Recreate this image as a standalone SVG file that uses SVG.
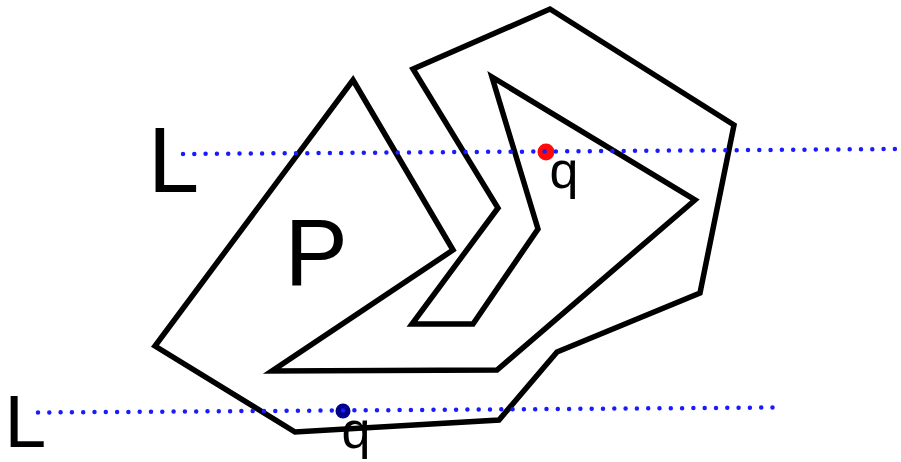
<svg xmlns="http://www.w3.org/2000/svg" width="901" height="462" viewBox="0 0 901 462">
  <style>
    .poly { fill: none; stroke: #000; stroke-width: 5.5; stroke-linejoin: miter; stroke-miterlimit: 10; }
    .scan { fill: none; stroke: #1a1aff; stroke-width: 4.5; stroke-linecap: round; stroke-dasharray: 0 11.3; }
    .lbl { font-family: "Liberation Sans", Arial, sans-serif; fill: #000; }
  </style>
  <rect width="901" height="462" fill="#fff"/>
  <polygon id="P" class="poly" points="353,80 453,250 272,371 497,370 695,200 492,77 538,229 473,324 412,324 498,208 413,69 550,9 734,125 700,293 557,352 499,420 295,432 155,346"/>
  <circle id="q-in" cx="546" cy="152" r="8.5" fill="#ff0a0a"/>
  <circle id="q-out" cx="343" cy="411" r="7.5" fill="#00008b"/>
  <g id="lines">
    <line class="scan" x1="183" y1="154" x2="900" y2="149"/>
    <line class="scan" x1="38" y1="412.5" x2="777" y2="407.5"/>
  </g>
  <text class="lbl" x="148" y="192" font-size="92">L</text>
  <text class="lbl" x="4.5" y="447" font-size="75">L</text>
  <text class="lbl" x="284.5" y="285" font-size="95">P</text>
  <text class="lbl" x="549.5" y="188" font-size="52">q</text>
  <text class="lbl" x="341.5" y="448" font-size="52">q</text>
</svg>
